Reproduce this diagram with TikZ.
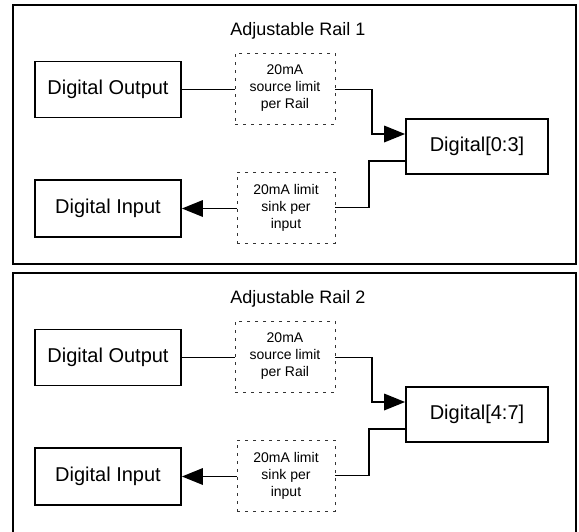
\documentclass[tikz,border=0pt]{standalone}
\usepackage{fontspec}
\setmainfont{Liberation Sans}
\usetikzlibrary{arrows.meta}
\begin{document}
\begin{tikzpicture}[x=1pt,y=-1pt,
  frame/.style={draw=black,line width=1.8pt},
  solidbox/.style={draw=black,line width=1.8pt,inner sep=0pt,align=center,font=\fontsize{20}{24}\selectfont},
  limbox/.style={draw=black!80,line width=0.9pt,dash pattern=on 3pt off 5pt,inner sep=0pt,align=center,font=\fontsize{14}{17}\selectfont},
  titletext/.style={inner sep=0pt,font=\fontsize{18}{22}\selectfont},
  conn/.style={line width=1.8pt,draw=black},
  arr/.style={conn,-{Triangle[length=21pt,width=16.5pt]}}]
\useasboundingbox (0,0) rectangle (579,531);
\fill[white] (0,0) rectangle (579,531);
\foreach \oy/\n/\rng/\fb in {0/1/0:3/264,268/2/4:7/290}{
\begin{scope}[yshift=-\oy pt]
  \draw[frame] (13,5) rectangle (576,\fb);
  \node[titletext] (title\n) at (298,31) {Adjustable Rail \n};
  \node[solidbox,minimum width=146pt,minimum height=56pt] (dout\n) at (108,89.5) {Digital Output};
  \node[solidbox,minimum width=146pt,minimum height=57pt] (din\n) at (108,208.5) {Digital Input};
  \node[limbox,minimum width=100pt,minimum height=71pt] (lima\n) at (285,88.5) {20mA\\source limit\\per Rail};
  \node[limbox,minimum width=98pt,minimum height=71pt] (limb\n) at (286,207.5) {20mA limit\\sink per\\input};
  \node[solidbox,minimum width=142pt,minimum height=55pt] (dig\n) at (477,146.5) {Digital[\rng]};
  \coordinate (ka\n) at (372,0);
  \coordinate (kb\n) at (369,0);
  \draw[conn] (dout\n.east) -- (dout\n.east -| lima\n.west);
  \draw[arr] (lima\n.east |- dout\n.east) -- (dout\n.east -| ka\n) |- ([yshift=12.5pt]dig\n.west);
  \draw[conn] ([yshift=-14.5pt]dig\n.west) -| (kb\n |- limb\n.east) -- (limb\n.east);
  \draw[arr] (limb\n.west |- din\n.east) -- (din\n.east);
\end{scope}
}
\end{tikzpicture}
\end{document}
